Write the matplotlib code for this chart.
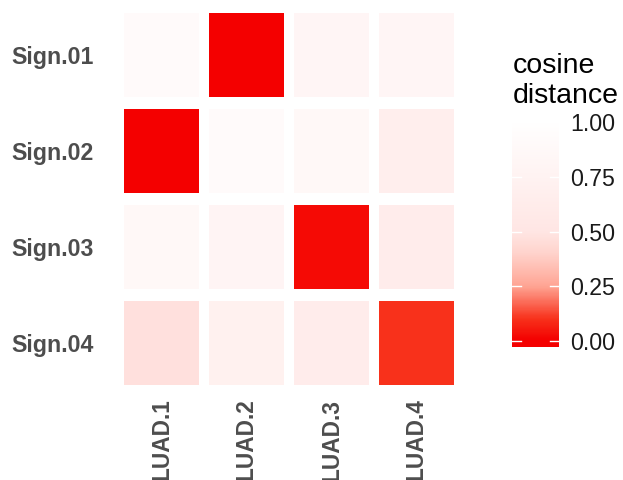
import numpy as np
import matplotlib
matplotlib.use("Agg")
import matplotlib.pyplot as plt
from matplotlib.colors import LinearSegmentedColormap, Normalize
from matplotlib.patches import Rectangle

plt.rcParams['font.family'] = ['Liberation Sans', 'DejaVu Sans']

# data
signatures = ["Sign.01", "Sign.02", "Sign.03", "Sign.04"]
samples = ["LUAD.1", "LUAD.2", "LUAD.3", "LUAD.4"]
dist = np.array([
    [0.90, 0.00, 0.80, 0.80],
    [0.00, 0.90, 0.85, 0.66],
    [0.85, 0.78, 0.02, 0.62],
    [0.47, 0.70, 0.62, 0.10],
])
cbar_ticks = [0.0, 0.25, 0.5, 0.75, 1.0]

# red -> misty rose -> white (gradient2 look)
cmap = LinearSegmentedColormap.from_list("cosdist", [
    (0.0, "#F40000"),
    (0.10, "#F8321C"),
    (0.25, "#FFA594"),
    (0.40, "#FFD3CC"),
    (0.50, "#FFE6E4"),
    (0.75, "#FFF3F2"),
    (1.0, "#FFFFFF"),
])
norm = Normalize(0, 1)

W, H = 623, 480
fig = plt.figure(figsize=(W / 100, H / 100), dpi=100)

# heatmap panel
ax = fig.add_axes([110.5 / W, 1 - 400.6 / H, 357 / W, 403.2 / H])
tw, th = 0.88, 0.875
for i in range(len(signatures)):
    for j in range(len(samples)):
        ax.add_patch(Rectangle((j - tw / 2, i - th / 2), tw, th,
                               facecolor=cmap(norm(dist[i, j])), edgecolor="none"))
ax.set_xlim(-0.6, 3.6)
ax.set_ylim(3.6, -0.6)
for s in ax.spines.values():
    s.set_visible(False)
ax.set_xticks(range(len(samples)))
ax.set_xticklabels(samples, rotation=90, fontsize=16.3, fontweight="bold", color="#4D4D4D")
ax.set_yticks(range(len(signatures)))
ax.set_yticklabels(signatures, fontsize=16.7, fontweight="bold", color="#4D4D4D")
ax.tick_params(axis="x", length=0, pad=-1.5)
ax.tick_params(axis="y", length=0, pad=12)

# colorbar
lo, hi = -0.027, 1.02
cax = fig.add_axes([512 / W, 1 - 347 / H, 47 / W, (347 - 118) / H])
grad = np.linspace(lo, hi, 300)[:, None]
cax.imshow(grad, extent=[0, 1, lo, hi], origin="lower", aspect="auto",
           cmap=cmap, norm=norm)
cax.set_xlim(0, 1)
cax.set_ylim(lo, hi)
for t in cbar_ticks:
    cax.plot([0, 0.2], [t, t], color="white", lw=1)
    cax.plot([0.8, 1], [t, t], color="white", lw=1)
for s in cax.spines.values():
    s.set_visible(False)
cax.set_xticks([])
cax.yaxis.tick_right()
cax.set_yticks(cbar_ticks)
cax.set_yticklabels([f"{t:.2f}" for t in cbar_ticks], fontsize=16.7, color="#1A1A1A")
cax.tick_params(axis="y", length=0, pad=8)

fig.text(513 / W, 1 - 73 / H, "cosine", fontsize=20.5, va="baseline", ha="left", color="black")
fig.text(513 / W, 1 - 103 / H, "distance", fontsize=20.5, va="baseline", ha="left", color="black")

fig.savefig("out.png", dpi=100)
